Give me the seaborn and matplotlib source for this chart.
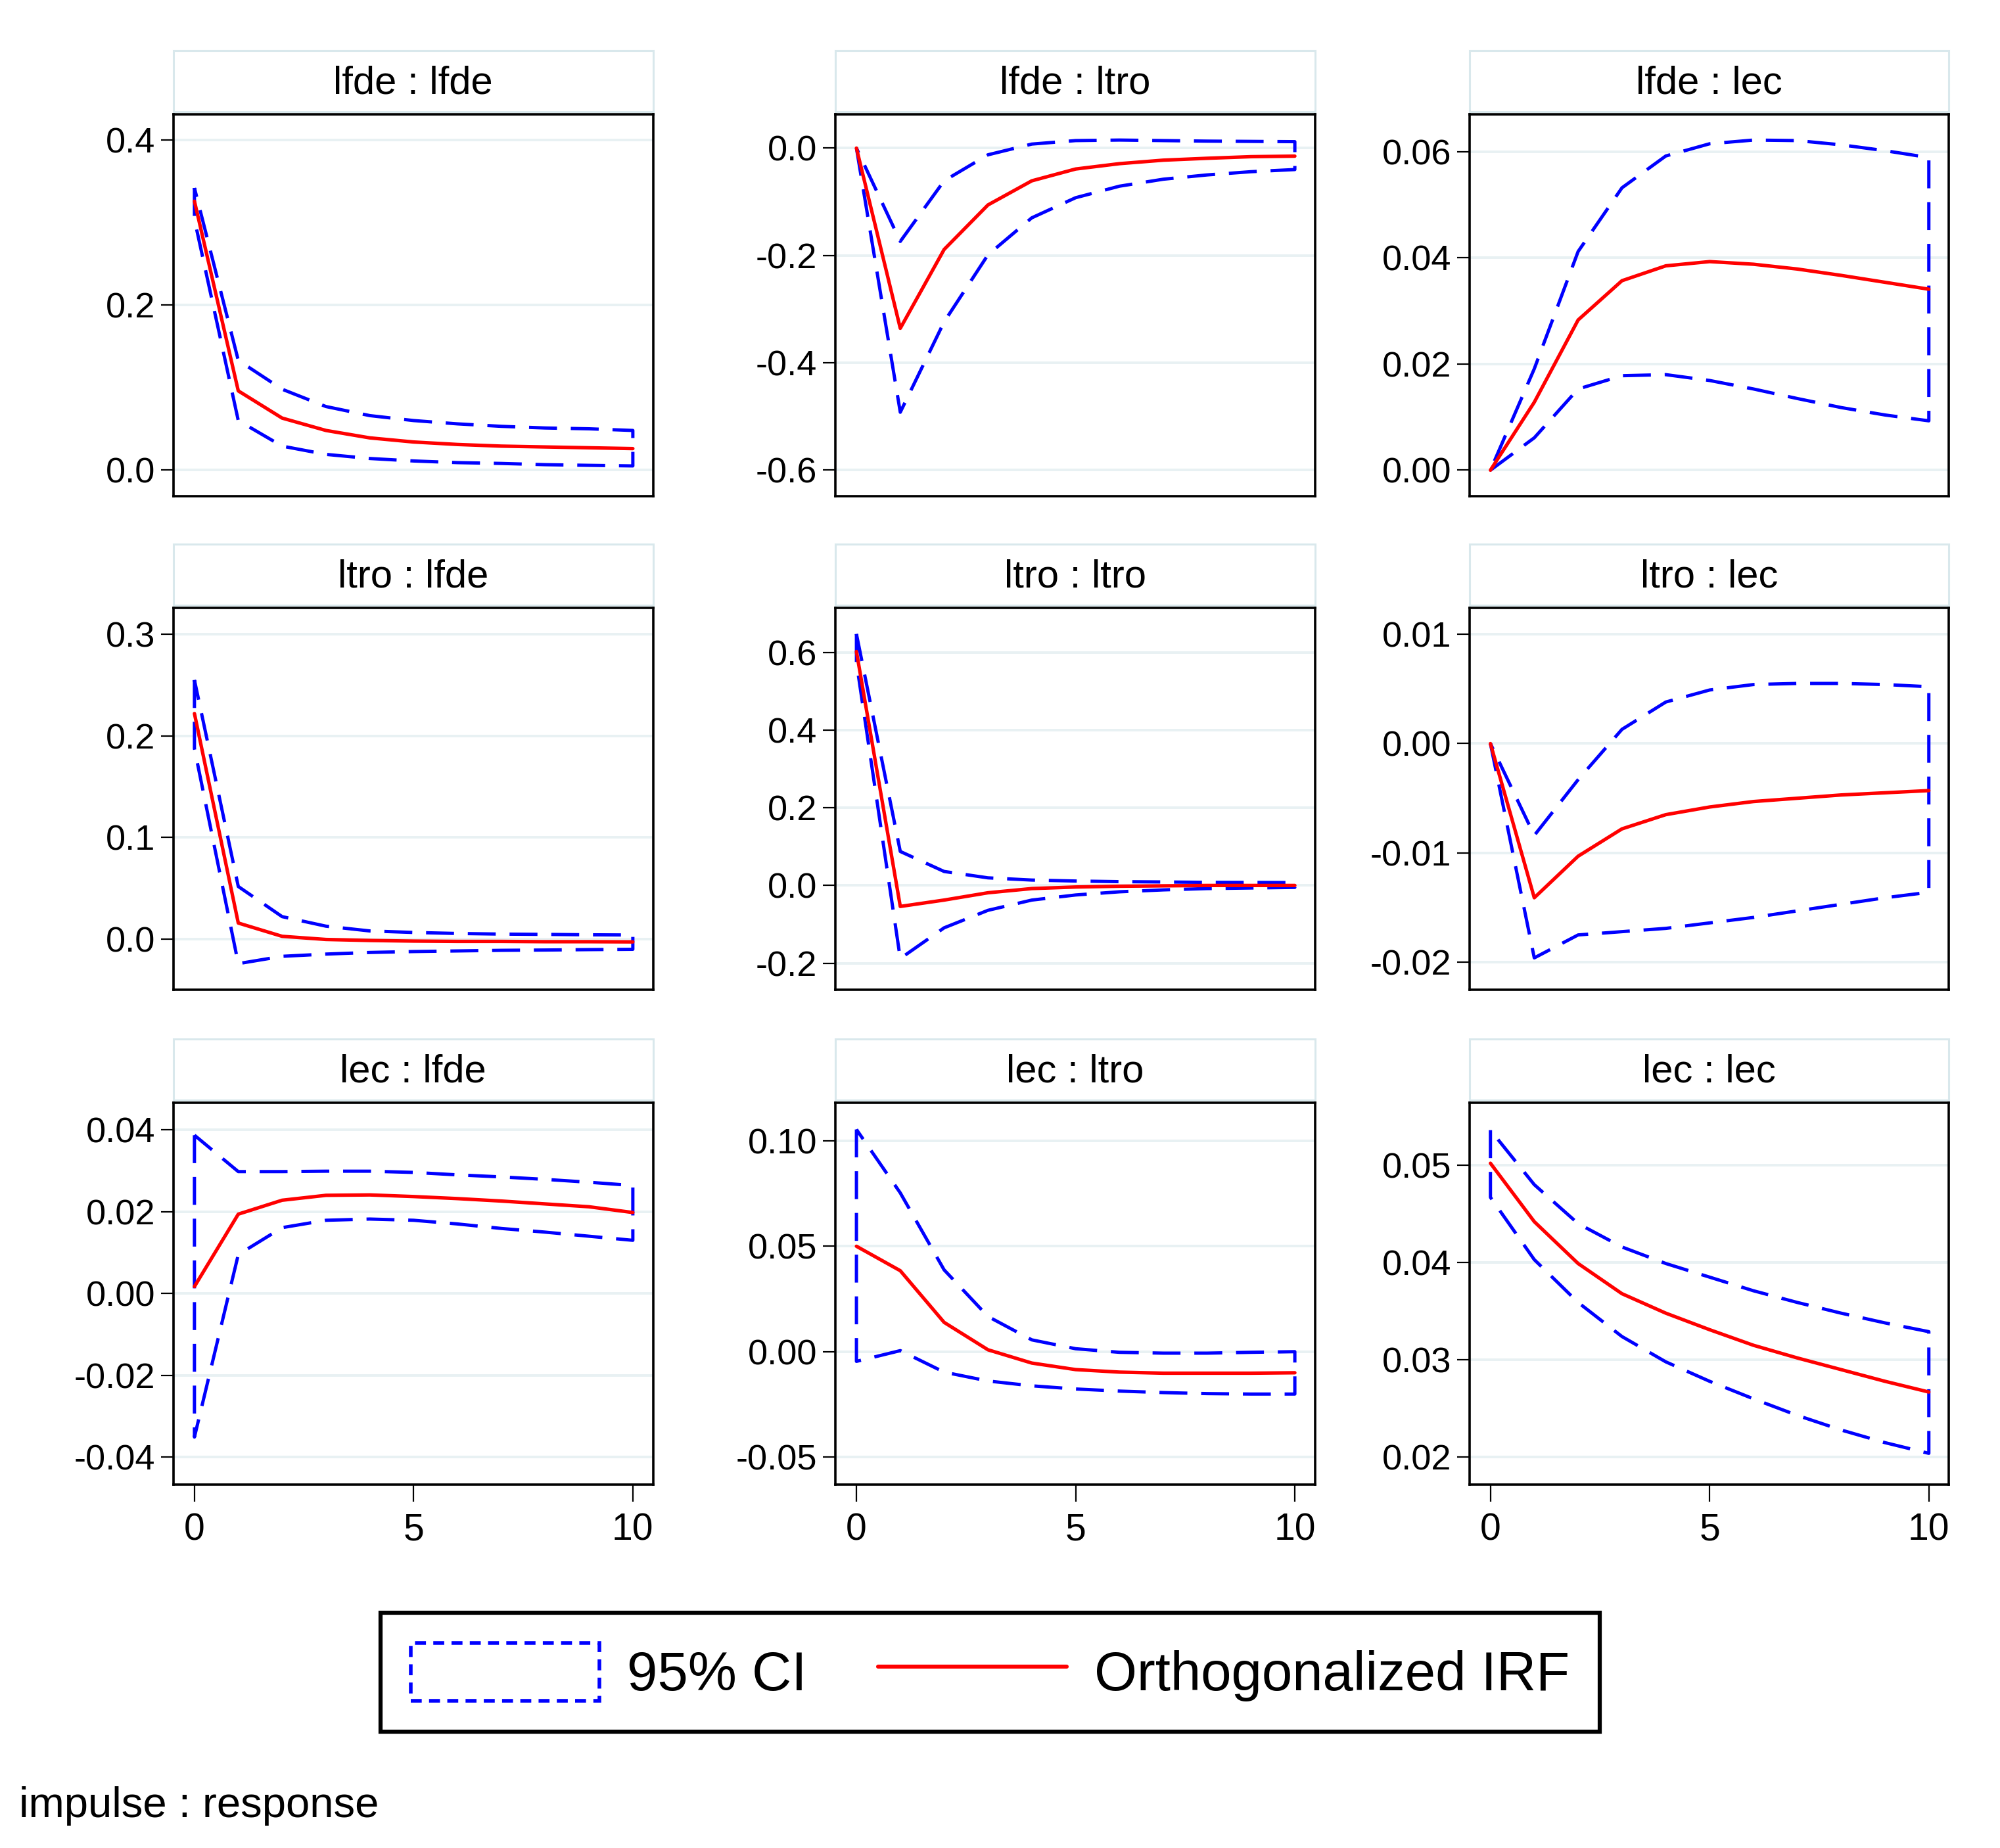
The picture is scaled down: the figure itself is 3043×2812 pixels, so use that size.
import numpy as np
import pandas as pd
import seaborn as sns
import matplotlib.pyplot as plt
from matplotlib.patches import Rectangle, Patch
from matplotlib.lines import Line2D

sns.set_style("white")
plt.rcParams['font.family'] = ['Liberation Sans Narrow', 'Liberation Sans', 'DejaVu Sans']
plt.rcParams['axes.unicode_minus'] = False
plt.rcParams['text.color'] = 'black'
plt.rcParams['xtick.color'] = 'black'
plt.rcParams['ytick.color'] = 'black'

steps = list(range(11))

# impulse : response panels, row by row
titles = ["lfde : lfde", "lfde : ltro", "lfde : lec",
          "ltro : lfde", "ltro : ltro", "ltro : lec",
          "lec : lfde", "lec : ltro", "lec : lec"]

irf_lfde_lfde = [0.326, 0.096, 0.063, 0.048, 0.039, 0.034, 0.031, 0.029, 0.028, 0.027, 0.026]
hi_lfde_lfde = [0.342, 0.133, 0.098, 0.077, 0.066, 0.060, 0.056, 0.053, 0.051, 0.050, 0.048]
lo_lfde_lfde = [0.304, 0.060, 0.029, 0.019, 0.014, 0.011, 0.009, 0.008, 0.0065, 0.0057, 0.005]

irf_lfde_ltro = [0.0, -0.336, -0.189, -0.106, -0.061, -0.039, -0.029, -0.0225, -0.019, -0.016, -0.015]
hi_lfde_ltro = [0.0, -0.174, -0.061, -0.0125, 0.0075, 0.014, 0.015, 0.014, 0.013, 0.0125, 0.012]
lo_lfde_ltro = [0.0, -0.4925, -0.324, -0.199, -0.130, -0.0925, -0.071, -0.058, -0.050, -0.044, -0.040]

irf_lfde_lec = [0.0, 0.0128, 0.0283, 0.0357, 0.0385, 0.0393, 0.0388, 0.0379, 0.0367, 0.0354, 0.0341]
hi_lfde_lec = [0.0, 0.0191, 0.0412, 0.0532, 0.0592, 0.0615, 0.0622, 0.0621, 0.0613, 0.0602, 0.0589]
lo_lfde_lec = [0.0, 0.0061, 0.0153, 0.0178, 0.0180, 0.0169, 0.0153, 0.0135, 0.0118, 0.0104, 0.0093]

irf_ltro_lfde = [0.222, 0.0156, 0.0025, -0.0006, -0.0016, -0.0022, -0.0025, -0.0025, -0.0028, -0.0028, -0.003]
hi_ltro_lfde = [0.255, 0.0516, 0.0219, 0.0125, 0.0078, 0.0063, 0.0053, 0.0047, 0.0044, 0.004, 0.0038]
lo_ltro_lfde = [0.1875, -0.0244, -0.0172, -0.015, -0.0134, -0.0125, -0.0119, -0.0113, -0.011, -0.0106, -0.0103]

irf_ltro_ltro = [0.602, -0.054, -0.0376, -0.0188, -0.008, -0.004, -0.002, -0.001, 0.0, 0.0, 0.0]
hi_ltro_ltro = [0.647, 0.0875, 0.036, 0.0196, 0.0139, 0.0114, 0.0098, 0.009, 0.008, 0.0078, 0.0074]
lo_ltro_ltro = [0.574, -0.188, -0.109, -0.064, -0.0376, -0.0245, -0.0163, -0.0114, -0.008, -0.0065, -0.005]

irf_ltro_lec = [0.0, -0.0141, -0.0103, -0.0078, -0.0065, -0.0058, -0.0053, -0.005, -0.0047, -0.0045, -0.0043]
hi_ltro_lec = [0.0, -0.0084, -0.0033, 0.0013, 0.0038, 0.0049, 0.0054, 0.0055, 0.0055, 0.0054, 0.0052]
lo_ltro_lec = [0.0, -0.0196, -0.0175, -0.0172, -0.0169, -0.0164, -0.0159, -0.0153, -0.0147, -0.0141, -0.0136]

irf_lec_lfde = [0.0017, 0.0194, 0.0228, 0.024, 0.0241, 0.0237, 0.0232, 0.0226, 0.0219, 0.0212, 0.0198]
hi_lec_lfde = [0.0387, 0.0298, 0.0298, 0.0299, 0.0299, 0.0296, 0.029, 0.0285, 0.0279, 0.0272, 0.0264]
lo_lec_lfde = [-0.0351, 0.0095, 0.0161, 0.0179, 0.0182, 0.0179, 0.017, 0.0159, 0.015, 0.014, 0.013]

irf_lec_ltro = [0.05, 0.0384, 0.0139, 0.0009, -0.0054, -0.0085, -0.0097, -0.0102, -0.0102, -0.0102, -0.010]
hi_lec_ltro = [0.1054, 0.0753, 0.0388, 0.0167, 0.0056, 0.0014, -0.0003, -0.0007, -0.0007, -0.0003, 0.0]
lo_lec_ltro = [-0.0046, 0.0005, -0.0097, -0.0139, -0.0162, -0.0177, -0.0187, -0.0194, -0.0199, -0.0201, -0.0201]

irf_lec_lec = [0.0502, 0.0442, 0.0399, 0.0368, 0.0348, 0.0331, 0.0315, 0.0302, 0.029, 0.0278, 0.0267]
hi_lec_lec = [0.0536, 0.048, 0.044, 0.0416, 0.0399, 0.0385, 0.0371, 0.0359, 0.0348, 0.0338, 0.0329]
lo_lec_lec = [0.0467, 0.0403, 0.0359, 0.0324, 0.0298, 0.0278, 0.026, 0.0243, 0.0228, 0.0215, 0.0204]

irfs = [irf_lfde_lfde, irf_lfde_ltro, irf_lfde_lec, irf_ltro_lfde, irf_ltro_ltro,
        irf_ltro_lec, irf_lec_lfde, irf_lec_ltro, irf_lec_lec]
his = [hi_lfde_lfde, hi_lfde_ltro, hi_lfde_lec, hi_ltro_lfde, hi_ltro_ltro,
       hi_ltro_lec, hi_lec_lfde, hi_lec_ltro, hi_lec_lec]
los = [lo_lfde_lfde, lo_lfde_ltro, lo_lfde_lec, lo_ltro_lfde, lo_ltro_ltro,
       lo_ltro_lec, lo_lec_lfde, lo_lec_ltro, lo_lec_lec]

yticks = [[0.0, 0.2, 0.4], [-0.6, -0.4, -0.2, 0.0], [0.0, 0.02, 0.04, 0.06],
          [0.0, 0.1, 0.2, 0.3], [-0.2, 0.0, 0.2, 0.4, 0.6], [-0.02, -0.01, 0.0, 0.01],
          [-0.04, -0.02, 0.0, 0.02, 0.04], [-0.05, 0.0, 0.05, 0.10], [0.02, 0.03, 0.04, 0.05]]
ytick_labels = [["0.0", "0.2", "0.4"], ["-0.6", "-0.4", "-0.2", "0.0"], ["0.00", "0.02", "0.04", "0.06"],
                ["0.0", "0.1", "0.2", "0.3"], ["-0.2", "0.0", "0.2", "0.4", "0.6"],
                ["-0.02", "-0.01", "0.00", "0.01"], ["-0.04", "-0.02", "0.00", "0.02", "0.04"],
                ["-0.05", "0.00", "0.05", "0.10"], ["0.02", "0.03", "0.04", "0.05"]]
ylims = [(-0.0317, 0.431), (-0.649, 0.0625), (-0.0049, 0.067),
         (-0.05, 0.326), (-0.268, 0.714), (-0.0225, 0.0124),
         (-0.0467, 0.0466), (-0.063, 0.118), (0.0172, 0.0564)]
xticks = [0, 5, 10]

fig = plt.figure(figsize=(30.43, 28.12), dpi=100)
cols_left = [0.0867, 0.4177, 0.7347]
rows_bottom = [0.7315, 0.4645, 0.1967]
w, h = 0.2398, 0.2065

for i in range(9):
    r, c = divmod(i, 3)
    ax = fig.add_axes([cols_left[c], rows_bottom[r], w, h])
    df = pd.DataFrame({"step": steps, "irf": irfs[i], "lo": los[i], "hi": his[i]})

    for yv in yticks[i]:
        ax.axhline(yv, color="#e8f1f3", lw=2.8, zorder=0)
    ax.fill_between(df["step"], df["lo"], df["hi"], facecolor="none", edgecolor="#0000ff",
                    linestyle=(0, (8.5, 4.2)), linewidth=3.6, zorder=2)
    sns.lineplot(data=df, x="step", y="irf", ax=ax, color="#ff0000", lw=3.8, zorder=3)

    ax.set_xlim(-0.48, 10.46)
    ax.set_ylim(*ylims[i])
    ax.set_yticks(yticks[i])
    ax.set_yticklabels(ytick_labels[i])
    ax.set_xlabel("")
    ax.set_ylabel("")
    ax.tick_params(axis="y", direction="out", length=14, width=1.6, pad=6, labelsize=39, left=True)
    if r == 2:
        ax.set_xticks(xticks)
        ax.set_xticklabels([str(t) for t in xticks])
        ax.tick_params(axis="x", direction="out", length=19, width=1.6, pad=12, labelsize=41, bottom=True)
    else:
        ax.set_xticks([])
    for s in ax.spines.values():
        s.set_visible(True)
        s.set_color("black")
        s.set_linewidth(2.6)

    strip = Rectangle((0, 1.008), 1, 0.16, transform=ax.transAxes, clip_on=False,
                      facecolor="white", edgecolor="#d9e8ec", lw=2.2)
    ax.add_patch(strip)
    ax.text(0.5, 1.082, titles[i], transform=ax.transAxes, ha="center", va="center", fontsize=43)

ci_handle = Patch(facecolor="none", edgecolor="#0000ff", linestyle=(0, (3, 2)), linewidth=4.0)
irf_handle = Line2D([], [], color="#ff0000", lw=4.4)
leg = fig.legend([ci_handle, irf_handle], ["95% CI", "Orthogonalized IRF"], loc="center",
                 bbox_to_anchor=(0.495, 0.095), ncol=2, fontsize=60, frameon=True, framealpha=1,
                 fancybox=False, edgecolor="black", handlelength=3.45, handleheight=1.25,
                 handletextpad=0.5, columnspacing=1.3, borderpad=0.55)
leg.get_frame().set_linewidth(4.5)

fig.text(0.0096, 0.0166, "impulse : response", ha="left", va="baseline", fontsize=47)

fig.savefig("out.png", dpi=100)
